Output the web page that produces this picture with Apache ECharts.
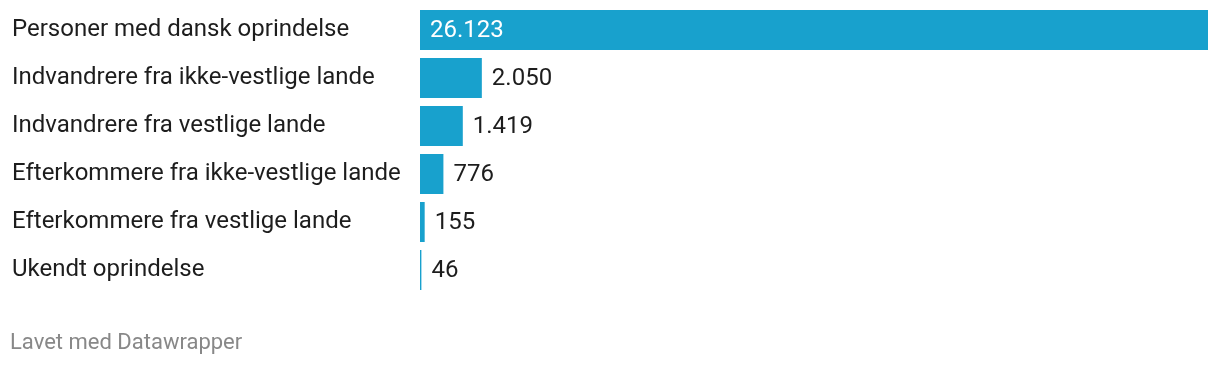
<!DOCTYPE html>
<html>
<head>
<meta charset="utf-8">
<script src="https://cdn.jsdelivr.net/npm/echarts@6/dist/echarts.min.js"></script>
<style>
html,body{margin:0;padding:0;background:#fff;}
#chart{width:1220px;height:366px;}
</style>
</head>
<body>
<div id="chart"></div>
<script>
const categories = [
  "Personer med dansk oprindelse",
  "Indvandrere fra ikke-vestlige lande",
  "Indvandrere fra vestlige lande",
  "Efterkommere fra ikke-vestlige lande",
  "Efterkommere fra vestlige lande",
  "Ukendt oprindelse"
];
const values = [26123, 2050, 1419, 776, 155, 46];
const footerText = "Lavet med Datawrapper";

function fmt(v){
  return String(v).replace(/\B(?=(\d{3})+(?!\d))/g, ".");
}

const chart = echarts.init(document.getElementById('chart'), null, {renderer:'canvas'});
const maxV = Math.max(...values);
chart.setOption({
  animation:false,
  backgroundColor:'#ffffff',
  textStyle:{fontFamily:'Roboto'},
  title:{
    text: footerText,
    left: 10, top: 332, padding:0,
    textStyle:{fontFamily:'Roboto', fontSize:22, fontWeight:'normal', color:'#888888'}
  },
  grid:{left:420, top:6, width:788, height:288, containLabel:false},
  xAxis:{type:'value', min:0, max:maxV, show:false},
  yAxis:{
    type:'category', data:categories, inverse:true,
    axisLine:{show:false}, axisTick:{show:false}, splitLine:{show:false},
    axisLabel:{align:'left', margin:408, verticalAlign:'middle', lineHeight:24, padding:[5,0,0,0], fontFamily:'Roboto', fontSize:24, color:'#1d1d1d'}
  },
  series:[{
    type:'bar',
    barWidth:40,
    data: values.map((v,i)=>({
      value:v,
      label: i===0 ? {position:'insideLeft', distance:10, color:'#ffffff'} : {position:'right', distance:10, color:'#1d1d1d'}
    })),
    itemStyle:{color:'#18a1cd'},
    label:{show:true, offset:[0,1], fontFamily:'Roboto', fontSize:24, formatter:p=>fmt(p.value)}
  }]
});
</script>
</body>
</html>
